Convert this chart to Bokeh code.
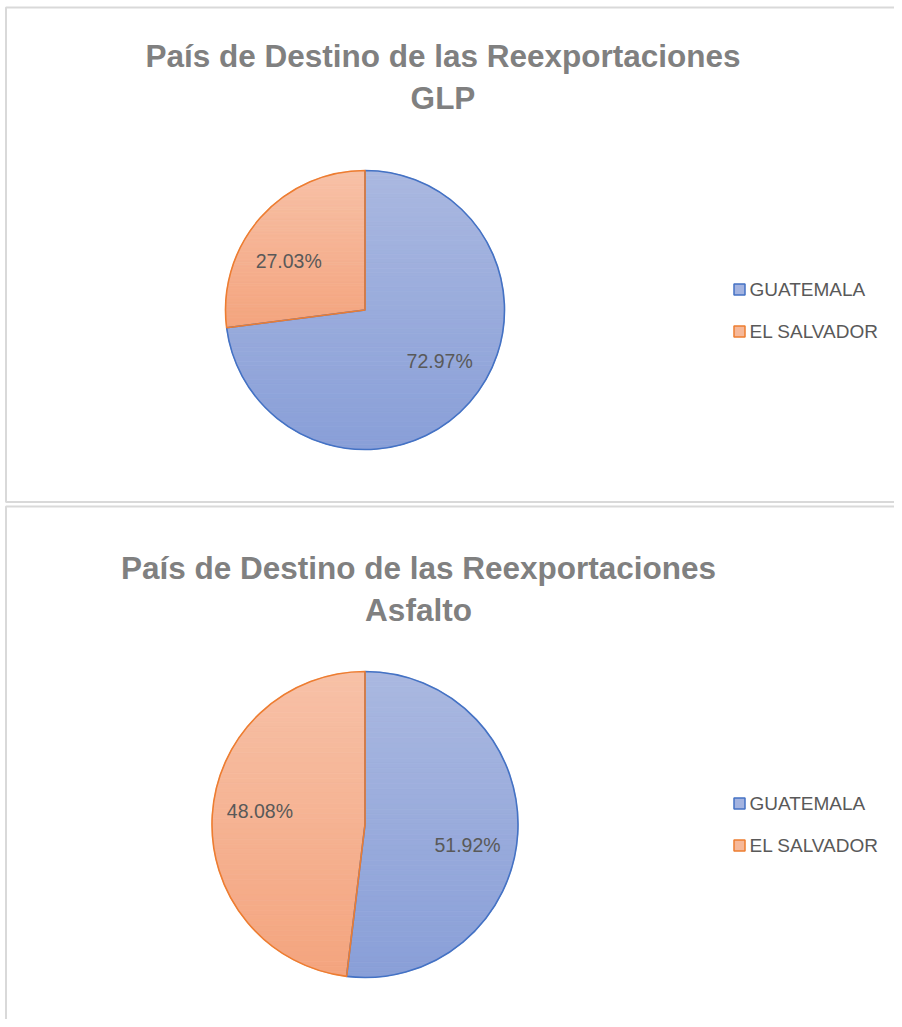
import math
from bokeh.plotting import figure
from bokeh.models import Range1d, ColumnDataSource
from bokeh.core.properties import value
from bokeh.embed import file_html
from bokeh.resources import INLINE

# ---------------- data ----------------
categories = ["GUATEMALA", "EL SALVADOR"]
glp_shares = [72.97, 27.03]
asfalto_shares = [51.92, 48.08]
chart_titles = [["País de Destino de las Reexportaciones", "GLP"],
                ["País de Destino de las Reexportaciones", "Asfalto"]]

# ---------------- style / layout ----------------
FONT = value("Liberation Sans")
grad_top = ["#aab8e0", "#f7c1a7"]
grad_bottom = ["#899fd8", "#f4a47e"]
line_colors = ["#4472c4", "#ed7d31"]
legend_fill = ["#a3b3e0", "#f6b899"]
TITLE_COLOR = "#808080"
LABEL_COLOR = "#595959"
BORDER = "#d9d9d9"
N_STRIPS = 60


def hex2rgb(h):
    h = h.lstrip("#")
    return [int(h[i:i + 2], 16) for i in (0, 2, 4)]


def lerp_color(c0, c1, t):
    a, b = hex2rgb(c0), hex2rgb(c1)
    return "#%02x%02x%02x" % tuple(int(round(a[i] + (b[i] - a[i]) * t)) for i in range(3))


def clip(poly, yv, keep_above):
    out = []
    n = len(poly)
    for i in range(n):
        cur, prev = poly[i], poly[i - 1]
        cin = cur[1] >= yv if keep_above else cur[1] <= yv
        pin = prev[1] >= yv if keep_above else prev[1] <= yv
        if cin:
            if not pin:
                t = (yv - prev[1]) / (cur[1] - prev[1])
                out.append((prev[0] + t * (cur[0] - prev[0]), yv))
            out.append(cur)
        elif pin:
            t = (yv - prev[1]) / (cur[1] - prev[1])
            out.append((prev[0] + t * (cur[0] - prev[0]), yv))
    return out


# page pixel (X, Y) <-> data (X, -Y)
p = figure(width=894, height=1019, x_range=Range1d(0, 894), y_range=Range1d(-1019, 0),
           output_backend="svg", toolbar_location=None, min_border=0,
           x_axis_location=None, y_axis_location=None)
p.grid.visible = False
p.outline_line_color = None
p.background_fill_color = "white"

# chart boxes (borders)
p.multi_line(xs=[[894, 5.5, 5.5, 894], [894, 5.5, 5.5]],
             ys=[[-7, -7, -501.5, -501.5], [-506, -506, -1019]],
             line_color=BORDER, line_width=2)

charts = [
    dict(shares=glp_shares, title=chart_titles[0], cx=364.5, cy=309.5, r=139.5,
         title_x=442.5, title_base=[55, 97], label_f=0.65,
         nudge=[(6.6, -8.6), (-8.2, 10.6)], legend_y=[289, 331]),
    dict(shares=asfalto_shares, title=chart_titles[1], cx=364.5, cy=824, r=153,
         title_x=418, title_base=[567, 609], label_f=0.69,
         nudge=[(-2.8, 14.5), (0.3, -7.5)], legend_y=[803, 845]),
]

for ch in charts:
    shares = ch["shares"]
    total = sum(shares)
    cx, cy, r = ch["cx"], -ch["cy"], ch["r"]
    starts, ends, lx, ly, labels = [], [], [], [], []
    cum = 0.0
    for i, s in enumerate(shares):
        a0 = math.pi / 2 - 2 * math.pi * cum / total
        cum += s
        a1 = math.pi / 2 - 2 * math.pi * cum / total
        starts.append(a0)
        ends.append(a1)
        mid = (a0 + a1) / 2
        rr = r * ch["label_f"]
        lx.append(cx + rr * math.cos(mid) + ch["nudge"][i][0])
        ly.append(cy + rr * math.sin(mid) - ch["nudge"][i][1])
        labels.append(f"{s:.2f}%")

        # gradient fill of the slice, built from horizontal strips
        steps = max(8, int(abs(a1 - a0) * 60))
        poly = [(cx, cy)] + [(cx + r * math.cos(a0 + (a1 - a0) * k / steps),
                              cy + r * math.sin(a0 + (a1 - a0) * k / steps))
                             for k in range(steps + 1)]
        ymax = max(q[1] for q in poly)
        ymin = min(q[1] for q in poly)
        xs_s, ys_s, cols = [], [], []
        for k in range(N_STRIPS):
            yt = ymax - (ymax - ymin) * k / N_STRIPS
            yb = ymax - (ymax - ymin) * (k + 1) / N_STRIPS
            part = clip(clip(poly, yb, True), yt, False)
            if len(part) < 3:
                continue
            xs_s.append([q[0] for q in part])
            ys_s.append([q[1] for q in part])
            cols.append(lerp_color(grad_top[i], grad_bottom[i], (k + 0.5) / N_STRIPS))
        p.patches(xs=xs_s, ys=ys_s, fill_color=cols, line_color=cols, line_width=0.8)

    src = ColumnDataSource(dict(x=[cx] * len(shares), y=[cy] * len(shares),
                                start=starts, end=ends, line=line_colors))
    p.wedge(x="x", y="y", radius=r, start_angle="start", end_angle="end",
            direction="clock", fill_color=None, line_color="line", line_width=1.6, source=src)
    p.text(x=lx, y=ly, text=labels, text_font=FONT, text_font_size="19.5px",
           text_color=LABEL_COLOR, text_align="center", text_baseline="middle")
    # title
    for line, base in zip(ch["title"], ch["title_base"]):
        p.text(x=[ch["title_x"]], y=[-base], text=[line], text_font=FONT,
               text_font_size="31.5px", text_font_style="bold", text_color=TITLE_COLOR,
               text_align="center", text_baseline="alphabetic")
    # legend
    for i, cat in enumerate(categories):
        yy = -ch["legend_y"][i]
        p.scatter(x=[739], y=[yy], marker="square", size=11, fill_color=legend_fill[i],
                  line_color=line_colors[i], line_width=1.5)
        p.text(x=[749], y=[yy], text=[cat], text_font=FONT, text_font_size="19px",
               text_color=LABEL_COLOR, text_align="left", text_baseline="middle")

open("out.html", "w").write(file_html(p, INLINE))
